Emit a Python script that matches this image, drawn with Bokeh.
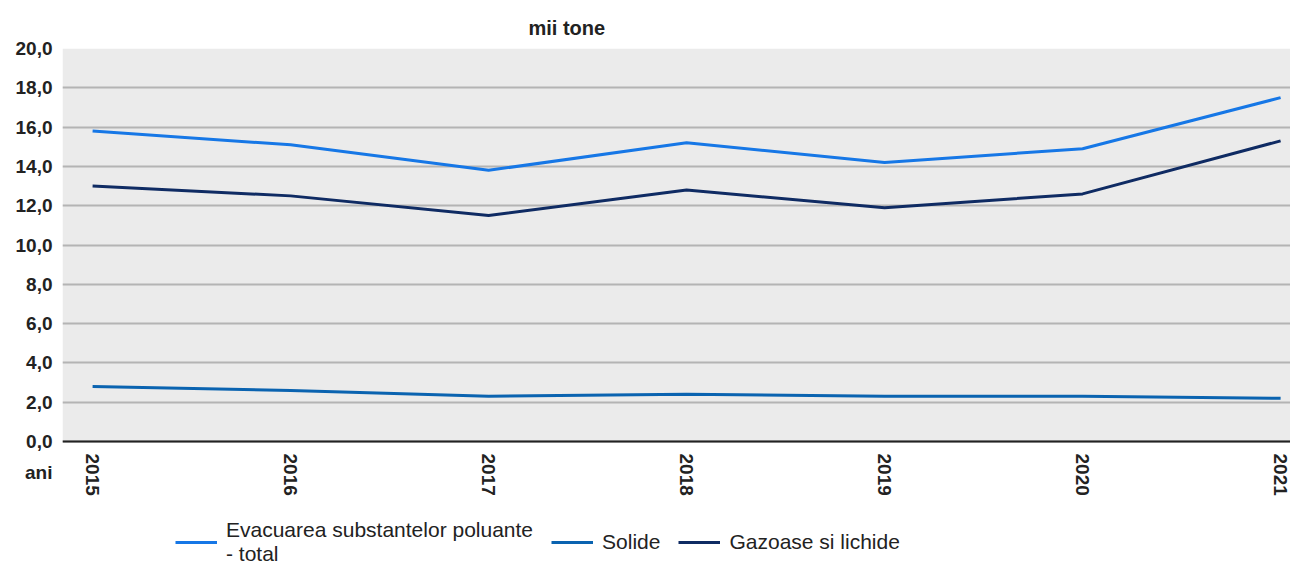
import math
from bokeh.plotting import figure
from bokeh.models import Range1d, FixedTicker, Legend, LegendItem, BoxAnnotation, Span
from bokeh.core.properties import value
from bokeh.embed import file_html
from bokeh.resources import INLINE

years = [2015, 2016, 2017, 2018, 2019, 2020, 2021]
year_labels = [str(y) for y in years]
total = [15.8, 15.1, 13.8, 15.2, 14.2, 14.9, 17.5]
solide = [2.8, 2.6, 2.3, 2.4, 2.3, 2.3, 2.2]
gazoase = [13.0, 12.5, 11.5, 12.8, 11.9, 12.6, 15.3]
y_ticks = [0, 2, 4, 6, 8, 10, 12, 14, 16, 18, 20]
y_labels = {t: f"{t:.1f}".replace(".", ",") for t in y_ticks}
names = ["Evacuarea substantelor poluante\n- total", "Solide", "Gazoase si lichide"]
colors = ["#1677e6", "#0a63b0", "#0f2b63"]
ANI_POS = -1.58
FONT = "Liberation Sans"

p = figure(width=1290, height=566, output_backend="svg", toolbar_location=None,
           x_range=Range1d(2014.848, 2021.05), y_range=Range1d(-6.361, 20),
           x_axis_location=None,
           min_border_left=62, min_border_right=0, min_border_top=48, min_border_bottom=0)
p.background_fill_color = "white"
p.border_fill_color = "white"
p.outline_line_color = None

p.title.text = "mii tone"
p.title.align = "left"
p.title.offset = 466
p.title.text_font = FONT
p.title.text_font_size = "20px"
p.title.text_font_style = "bold"
p.title.text_color = "#222222"
p.title.standoff = 20

# plot area background (value range 0..20)
p.add_layout(BoxAnnotation(bottom=0, top=20, fill_color="#ebebeb", fill_alpha=1,
                           line_color=None, level="image"))

labels = dict(y_labels)
labels[ANI_POS] = "ani"
p.yaxis.ticker = FixedTicker(ticks=y_ticks + [ANI_POS])
p.yaxis.major_label_overrides = labels
p.yaxis.axis_line_color = None
p.yaxis.major_tick_line_color = None
p.yaxis.minor_tick_line_color = None
p.yaxis.major_label_text_font = FONT
p.yaxis.major_label_text_font_size = "19px"
p.yaxis.major_label_text_font_style = "bold"
p.yaxis.major_label_text_color = "#222222"
p.yaxis.major_label_standoff = 4

p.ygrid.ticker = FixedTicker(ticks=y_ticks)
p.ygrid.grid_line_color = "#b4b4b4"
p.ygrid.grid_line_width = 2
p.xgrid.grid_line_color = None

# x axis line at 0 and year labels
p.add_layout(Span(location=0, dimension="width", line_color="#222222", line_width=2))
p.text(x=years, y=-0.61, text=year_labels, angle=-math.pi / 2,
       text_align="left", text_baseline="middle", text_font=value(FONT),
       text_font_size="19px", text_font_style="bold", text_color="#222222")

r_total = p.line(years, total, line_color=colors[0], line_width=3)
r_sol = p.line(years, solide, line_color=colors[1], line_width=3)
r_gaz = p.line(years, gazoase, line_color=colors[2], line_width=3)

legend = Legend(items=[LegendItem(label=names[0], renderers=[r_total]),
                       LegendItem(label=names[1], renderers=[r_sol]),
                       LegendItem(label=names[2], renderers=[r_gaz])],
                orientation="horizontal", location=(113, 0),
                label_text_font=FONT, label_text_font_size="21px",
                label_text_line_height=0.95,
                label_text_color="#222222", border_line_color=None,
                background_fill_alpha=0, glyph_width=42, spacing=18,
                label_standoff=9, padding=2, margin=0)
p.add_layout(legend, "center")

open("out.html", "w").write(file_html(p, INLINE))
